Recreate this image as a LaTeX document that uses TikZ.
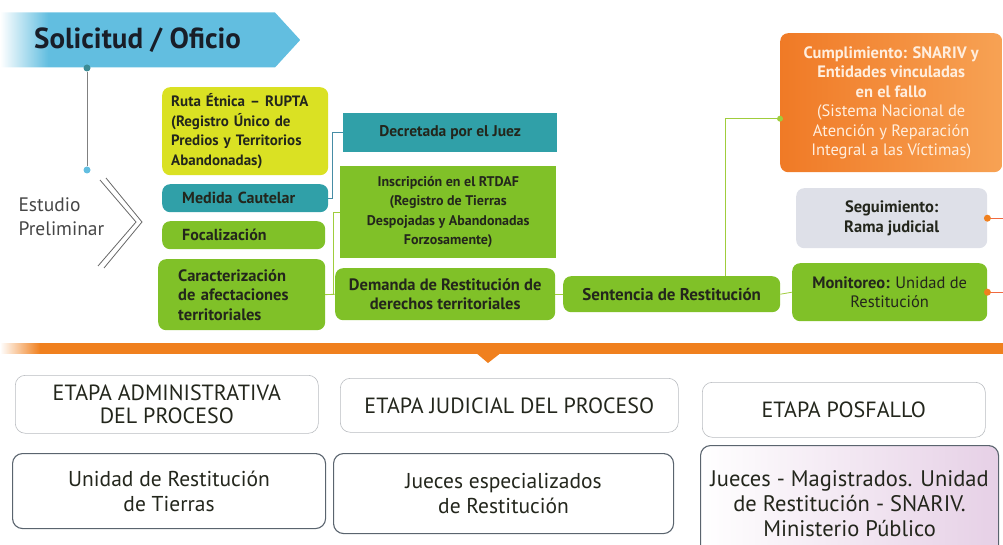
\documentclass[tikz,border=0pt]{standalone}
\usepackage{fontspec}
\setmainfont{PT Sans}
\usepackage{tikz}
\usetikzlibrary{positioning,shapes.symbols,calc}
\definecolor{banner}{RGB}{98,190,224}
\definecolor{tealdot}{RGB}{60,140,150}
\definecolor{tealbox}{RGB}{48,160,168}
\definecolor{yellowbox}{RGB}{218,225,35}
\definecolor{greenbox}{RGB}{128,193,40}
\definecolor{orangebox}{RGB}{240,122,38}
\definecolor{orangelight}{RGB}{247,162,84}
\definecolor{graybox}{RGB}{222,224,232}
\definecolor{inkdark}{RGB}{35,38,28}
\definecolor{band}{RGB}{240,128,30}
\definecolor{tealline}{RGB}{70,140,165}
\definecolor{greenline}{RGB}{160,205,60}
\definecolor{redline}{RGB}{240,105,65}
\definecolor{frame}{RGB}{90,100,110}
\definecolor{framelight}{RGB}{185,188,192}
\definecolor{glare}{RGB}{230,208,230}
\pgfdeclarehorizontalshading{bannerfade}{100bp}{color(0bp)=(white); color(25bp)=(white); color(33bp)=(banner); color(100bp)=(banner)}
\pgfdeclarehorizontalshading{bandfade}{100bp}{color(0bp)=(white); color(25bp)=(white); color(27bp)=(band); color(100bp)=(band)}
\newcommand\boxfont[1]{\bfseries\fontsize{#1}{19.5}\selectfont}
\newcommand\stagefont{\fontsize{22}{23}\selectfont}
\newcommand\whofont{\fontsize{21.5}{25}\selectfont}

\begin{document}
\begin{tikzpicture}[x=1pt, y=-1pt,
    box/.style={rectangle, rounded corners=8pt, anchor=north west, font=\boxfont{16.5}, text=inkdark, inner sep=0pt, align=center},
    sharpbox/.style={box, rounded corners=0pt},
    dot/.style={circle, inner sep=0pt, minimum size=7pt},
    stage/.style={rectangle, rounded corners=10pt, anchor=north west, draw=framelight, line width=0.6pt, font=\stagefont, text=inkdark, align=center},
    who/.style={rectangle, rounded corners=10pt, anchor=north west, draw=frame, line width=1.1pt, font=\whofont, text=inkdark, align=center}]
    \useasboundingbox (0,0) rectangle (1003,545);

    % Solicitud
    \node[signal, signal to=east, signal pointer angle=95, shading=bannerfade,
          minimum width=300pt, minimum height=55pt, anchor=west,
          font=\bfseries\fontsize{29}{32}\selectfont, text={rgb,255:red,25;green,30;blue,40}]
          (solicitud) at (0,40) {Solicitud / Oficio};
    \node[dot, fill=tealdot] (dtop) at (87,68) {};
    \node[dot, fill=banner] (dbot) at (87,170) {};
    \draw[line width=1pt, gray] (dtop) -- (dbot);

    % Estudio preliminar
    \node[align=left, font=\fontsize{19.5}{24}\selectfont, text={rgb,255:red,70;green,70;blue,70}, anchor=west]
          (estudio) at (15,217) {Estudio\\Preliminar};
    \draw[line width=0.8pt, gray!80!black] (106,178) -- (142,222) -- (104,268);
    \draw[line width=0.8pt, gray!80!black] (100,180) -- (136,222) -- (98,266);

    % Etapa administrativa
    \node[box, font=\boxfont{15}, fill=yellowbox, minimum width=166pt, minimum height=88pt, text width=148pt, align=left]
          (ruta) at (162,87) {Ruta Étnica – RUPTA\\(Registro Único de\\Predios y Territorios\\Abandonadas)};
    \node[box, font=\boxfont{16}, fill=tealbox, minimum width=166pt, minimum height=28pt, text width=126pt, align=left]
          (medida) at (162,184) {Medida Cautelar};
    \node[box, font=\boxfont{16}, fill=greenbox, minimum width=163pt, minimum height=28pt, text width=123pt, align=left]
          (focal) at (162,221) {Focalización};
    \node[box, fill=greenbox, minimum width=167pt, minimum height=71pt, text width=127pt, align=left]
          (carac) at (158,259) {Caracterización\\de afectaciones\\territoriales};

    % Etapa judicial
    \node[sharpbox, font=\boxfont{15.5}, fill=tealbox, minimum width=214pt, minimum height=39pt]
          (decretada) at (343,113) {Decretada por el Juez};
    \node[sharpbox, font=\boxfont{14}, fill=greenbox, minimum width=216pt, minimum height=92pt]
          (inscrip) at (340,166) {Inscripción en el RTDAF\\(Registro de Tierras\\Despojadas y Abandonadas\\Forzosamente)};
    \node[box, fill=greenbox, minimum width=220pt, minimum height=52pt]
          (demanda) at (335,268) {Demanda de Restitución de\\derechos territoriales};
    \node[box, font=\boxfont{17}, fill=greenbox, minimum width=217pt, minimum height=36pt]
          (sentencia) at (563,276) {Sentencia de Restitución};

    % Etapa posfallo
    \node[box, left color=orangebox, right color=orangelight, minimum width=222pt, minimum height=139pt,
          text={rgb,255:red,255;green,238;blue,222}]
          (cumpl) at (780,33) {Cumplimiento: SNARIV y\\Entidades vinculadas\\en el fallo\\\mdseries(Sistema Nacional de\\\mdseries Atención y Reparación\\\mdseries Integral a las Víctimas)};
    \node[box, fill=graybox, minimum width=191pt, minimum height=60pt]
          (seg) at (796,188) {Seguimiento:\\Rama judicial};
    \node[box, fill=greenbox, minimum width=195pt, minimum height=58pt]
          (monit) at (792,263) {Monitoreo: {\mdseries Unidad de}\\\mdseries Restitución};
    \coordinate (rightedge) at (1003,0);

    % Conectores
    \draw[tealline, line width=0.8pt] (medida.east) -- ++(4,0) |- (decretada.west);
    \draw[greenline, line width=0.8pt] (carac.east) -- ++(8,0) |- (inscrip.west);
    \draw[greenline, line width=0.8pt] (carac.east) -- (demanda.west);
    \draw[greenline, line width=0.8pt] (demanda.east) -- (sentencia.west);
    \draw[greenline, line width=0.8pt] (sentencia.east) -- (monit.west);
    \draw[greenline, line width=0.8pt] ([xshift=54pt]sentencia.north) |- ([yshift=-16pt]cumpl.west)
          node[dot, fill=greenline, minimum size=6pt] (cdot) {};
    \draw[redline, line width=0.8pt] (seg.east) -- (seg.east -| rightedge);
    \draw[redline, line width=0.8pt] (monit.east) -- (monit.east -| rightedge);
    \node[dot, fill=band] (sdot) at (seg.east) {};
    \node[dot, fill=band] (mdot) at (monit.east) {};

    % Separador
    \fill[shading=bandfade] (0,343) rectangle (1003,353);
    \fill[band] (475,352) -- (502,352) -- (488,363) -- cycle;

    % Etapas
    \node[stage, minimum width=303pt, minimum height=58pt] (etapa1) at (15,375) {ETAPA ADMINISTRATIVA\\DEL PROCESO};
    \node[stage, minimum width=338pt, minimum height=54pt] (etapa2) at (340,378) {ETAPA JUDICIAL DEL PROCESO};
    \node[stage, minimum width=283pt, minimum height=55pt] (etapa3) at (702,382) {ETAPA POSFALLO};
    \node[who, minimum width=313pt, minimum height=75pt] (who1) at (12,453) {Unidad de Restitución\\de Tierras};
    \node[who, minimum width=340pt, minimum height=80pt] (who2) at (333,453) {Jueces especializados\\de Restitución};
    \node[who, font=\fontsize{22.5}{25}\selectfont, left color=white, right color=glare, minimum width=298pt, minimum height=116pt] (who3) at (700,445)
          {Jueces - Magistrados. Unidad\\de Restitución - SNARIV.\\Ministerio Público};
\end{tikzpicture}
\end{document}
